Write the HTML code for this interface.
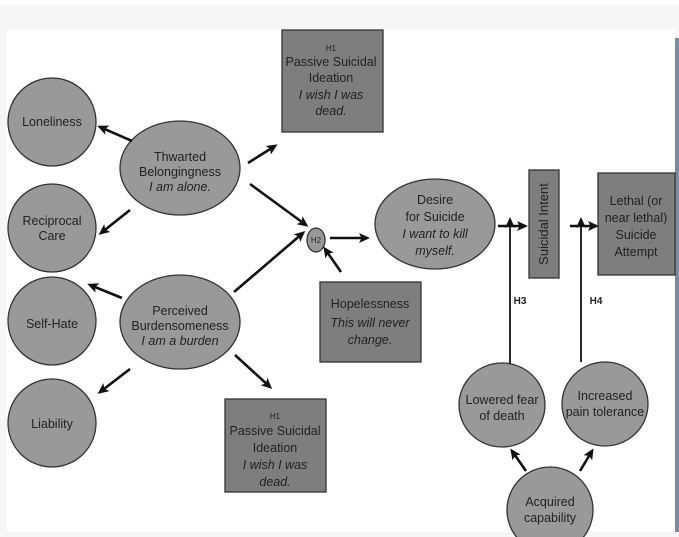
<!DOCTYPE html>
<html><head><meta charset="utf-8"><style>
html,body{margin:0;padding:0;background:#fff;}
svg{display:block;}
text{font-family:"Liberation Sans",sans-serif;fill:#222;}
</style></head><body>
<svg width="679" height="537" viewBox="0 0 679 537" xmlns="http://www.w3.org/2000/svg">
<defs><marker id="a" markerWidth="11" markerHeight="10" refX="8" refY="5" orient="auto" markerUnits="userSpaceOnUse"><path d="M0,0 L11,5 L0,10 L2.5,5 z" fill="#111"/></marker></defs>
<rect x="0" y="0" width="679" height="537" fill="#f6f6f6"/>
<rect x="0" y="0" width="679" height="5" fill="#fff"/>
<rect x="7" y="30" width="668" height="502" fill="#fff"/>
<rect x="675" y="38" width="4" height="494" fill="#6d8fb0"/>
<g stroke="#333" stroke-width="1.3">
<g fill="#999">
<circle cx="52" cy="122" r="44"/>
<circle cx="52" cy="228" r="44"/>
<circle cx="52" cy="321" r="44"/>
<circle cx="52" cy="423" r="44"/>
<ellipse cx="180" cy="168" rx="60" ry="47"/>
<ellipse cx="180" cy="322" rx="60" ry="47"/>
<ellipse cx="316" cy="240" rx="9" ry="12"/>
<ellipse cx="435" cy="224" rx="60" ry="45"/>
<ellipse cx="502" cy="405" rx="43" ry="42"/>
<ellipse cx="605" cy="404" rx="43" ry="42"/>
<ellipse cx="550" cy="510" rx="43" ry="43"/>
</g>
<g fill="#7e7e7e">
<rect x="282" y="30" width="101" height="102"/>
<rect x="225" y="399" width="101" height="93"/>
<rect x="320" y="282" width="101" height="80"/>
<rect x="529" y="170" width="30" height="108"/>
<rect x="598" y="173" width="77" height="102"/>
</g>
</g>
<g stroke="#111" stroke-width="2.6" fill="none" marker-end="url(#a)">
<line x1="132" y1="141" x2="100" y2="127"/>
<line x1="130" y1="210" x2="101" y2="233"/>
<line x1="248" y1="163" x2="275" y2="146"/>
<line x1="250" y1="184" x2="306" y2="225"/>
<line x1="234" y1="292" x2="303" y2="233"/>
<line x1="122" y1="298" x2="90" y2="285"/>
<line x1="130" y1="369" x2="100" y2="392"/>
<line x1="235" y1="355" x2="270" y2="387"/>
<line x1="330" y1="238" x2="367" y2="238"/>
<line x1="341" y1="272" x2="325" y2="249"/>
<line x1="498" y1="226" x2="525" y2="226"/>
<line x1="570" y1="226" x2="596" y2="226"/>
<line x1="526" y1="471" x2="512" y2="451"/>
<line x1="580" y1="471" x2="592" y2="451"/>
</g>
<g stroke="#111" stroke-width="1.8" fill="none" marker-end="url(#a)">
<line x1="510" y1="364" x2="510" y2="220"/>
<line x1="581" y1="362" x2="581" y2="220"/>
</g>
<g font-size="12.5" text-anchor="middle">
<text x="52" y="126">Loneliness</text>
<text x="52" y="225">Reciprocal</text><text x="52" y="240">Care</text>
<text x="52" y="328">Self-Hate</text>
<text x="52" y="428">Liability</text>
<text x="180" y="161">Thwarted</text><text x="180" y="176">Belongingness</text><text x="180" y="191" font-style="italic">I am alone.</text>
<text x="180" y="315">Perceived</text><text x="180" y="330">Burdensomeness</text><text x="180" y="345" font-style="italic">I am a burden</text>
<text x="331" y="51" font-size="8">H1</text>
<text x="331" y="66">Passive Suicidal</text><text x="331" y="82">Ideation</text><text x="331" y="99" font-style="italic">I wish I was</text><text x="331" y="115" font-style="italic">dead.</text>
<text x="275" y="419" font-size="8">H1</text>
<text x="275" y="435">Passive Suicidal</text><text x="275" y="452">Ideation</text><text x="275" y="469" font-style="italic">I wish I was</text><text x="275" y="486" font-style="italic">dead.</text>
<text x="316" y="243" font-size="8">H2</text>
<text x="370" y="308">Hopelessness</text><text x="370" y="327" font-style="italic">This will never</text><text x="370" y="344" font-style="italic">change.</text>
<text x="435" y="204">Desire</text><text x="435" y="221">for Suicide</text><text x="435" y="238" font-style="italic">I want to kill</text><text x="435" y="255" font-style="italic">myself.</text>
<text transform="translate(548,224) rotate(-90)" font-size="13">Suicidal Intent</text>
<text x="636" y="205">Lethal (or</text><text x="636" y="222">near lethal)</text><text x="636" y="239">Suicide</text><text x="636" y="256">Attempt</text>
<text x="502" y="404">Lowered fear</text><text x="502" y="420">of death</text>
<text x="605" y="400">Increased</text><text x="605" y="416">pain tolerance</text>
<text x="550" y="506">Acquired</text><text x="550" y="522">capability</text>
<text x="520" y="304" font-size="10" font-weight="bold">H3</text>
<text x="596" y="304" font-size="10" font-weight="bold">H4</text>
</g>
</svg>
</body></html>
